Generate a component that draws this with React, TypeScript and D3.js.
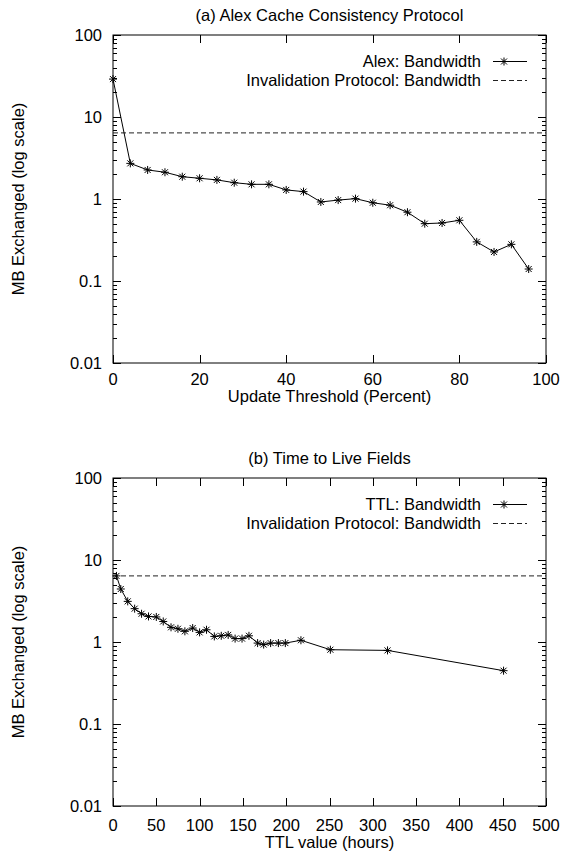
import React, { useEffect, useRef } from 'react';
import * as d3 from 'd3';

// (a) Alex protocol: update threshold (percent) vs MB exchanged
const alexThreshold = [0, 4, 8, 12, 16, 20, 24, 28, 32, 36, 40, 44, 48, 52, 56, 60, 64, 68, 72, 76, 80, 84, 88, 92, 96];
const alexBandwidth = [29, 2.72, 2.26, 2.12, 1.87, 1.79, 1.71, 1.58, 1.51, 1.51, 1.29, 1.23, 0.92, 0.97, 1.01, 0.9, 0.84, 0.69, 0.5, 0.51, 0.55, 0.3, 0.226, 0.28, 0.14];

// (b) TTL: ttl value (hours) vs MB exchanged
const ttlHours = [4, 9, 17, 25, 33, 41, 50, 58, 67, 75, 83, 92, 100, 108, 117, 125, 133, 141, 149, 157, 167, 174, 182, 191, 199, 217, 251, 317, 451];
const ttlBandwidth = [6.4, 4.43, 3.13, 2.55, 2.21, 2.05, 2.02, 1.78, 1.51, 1.45, 1.35, 1.48, 1.31, 1.41, 1.17, 1.19, 1.22, 1.1, 1.1, 1.19, 0.97, 0.93, 0.97, 0.97, 0.97, 1.05, 0.805, 0.79, 0.447];

const invalidationBandwidth = 6.4;

const yTicks = [0.01, 0.1, 1, 10, 100];
const yTickLabels = ['0.01', '0.1', '1', '10', '100'];
const alexXTicks = [0, 20, 40, 60, 80, 100];
const ttlXTicks = [0, 50, 100, 150, 200, 250, 300, 350, 400, 450, 500];

const FONT = '"Liberation Sans", Arial, Helvetica, sans-serif';
const FS = 16.5;

interface PanelProps {
  top: number;
  title: string;
  xLabel: string;
  xMax: number;
  xTicks: number[];
  xs: number[];
  ys: number[];
  seriesName: string;
  labelShift: number;
}

const Panel: React.FC<PanelProps> = ({ top, title, xLabel, xMax, xTicks, xs, ys, seriesName, labelShift }) => {
  const gRef = useRef<SVGGElement>(null);

  useEffect(() => {
    if (!gRef.current) return;
    const g = d3.select(gRef.current);
    g.selectAll('*').remove();

    const left = 113, right = 546, h = 328;
    const x = d3.scaleLinear().domain([0, xMax]).range([left, right]);
    const y = d3.scaleLog().domain([0.01, 100]).range([top + h, top]);

    const major = 8, minor = 4;

    // frame
    g.append('rect')
      .attr('x', left).attr('y', top)
      .attr('width', right - left).attr('height', h)
      .attr('fill', 'none').attr('stroke', '#000').attr('stroke-width', 1);

    // y ticks (major + minor, mirrored)
    const minors: number[] = [];
    for (let e = -2; e < 2; e++) {
      for (let k = 2; k <= 9; k++) minors.push(k * Math.pow(10, e));
    }
    const tickG = g.append('g').attr('stroke', '#000').attr('stroke-width', 1);
    yTicks.forEach(v => {
      const yy = Math.round(y(v)) + 0.5;
      tickG.append('line').attr('x1', left).attr('x2', left + major).attr('y1', yy).attr('y2', yy);
      tickG.append('line').attr('x1', right).attr('x2', right - major).attr('y1', yy).attr('y2', yy);
    });
    minors.forEach(v => {
      const yy = Math.round(y(v)) + 0.5;
      tickG.append('line').attr('x1', left).attr('x2', left + minor).attr('y1', yy).attr('y2', yy);
      tickG.append('line').attr('x1', right).attr('x2', right - minor).attr('y1', yy).attr('y2', yy);
    });
    xTicks.forEach(v => {
      const xx = Math.round(x(v)) + 0.5;
      tickG.append('line').attr('x1', xx).attr('x2', xx).attr('y1', top + h).attr('y2', top + h - major);
      tickG.append('line').attr('x1', xx).attr('x2', xx).attr('y1', top).attr('y2', top + major);
    });

    // tick labels
    yTicks.forEach((v, i) => {
      g.append('text')
        .attr('x', left - 11).attr('y', y(v) + 6)
        .attr('text-anchor', 'end')
        .style('font-family', FONT).style('font-size', `${FS}px`)
        .text(yTickLabels[i]);
    });
    xTicks.forEach(v => {
      g.append('text')
        .attr('x', x(v)).attr('y', top + h + 22 + labelShift)
        .attr('text-anchor', 'middle')
        .style('font-family', FONT).style('font-size', `${FS}px`)
        .text(String(v));
    });

    // titles
    g.append('text')
      .attr('x', (left + right) / 2).attr('y', top - 14)
      .attr('text-anchor', 'middle')
      .style('font-family', FONT).style('font-size', `${FS}px`)
      .text(title);
    g.append('text')
      .attr('x', (left + right) / 2).attr('y', top + h + 39 + labelShift)
      .attr('text-anchor', 'middle')
      .style('font-family', FONT).style('font-size', `${FS}px`)
      .text(xLabel);
    g.append('text')
      .attr('transform', `translate(24,${top + h / 2}) rotate(-90)`)
      .attr('text-anchor', 'middle')
      .style('font-family', FONT).style('font-size', `${FS}px`)
      .text('MB Exchanged (log scale)');

    // invalidation protocol: horizontal dashed line
    g.append('line')
      .attr('x1', left).attr('x2', right)
      .attr('y1', y(invalidationBandwidth)).attr('y2', y(invalidationBandwidth))
      .attr('stroke', '#222').attr('stroke-width', 1)
      .attr('stroke-dasharray', '5,3');

    // series line
    const pts = xs.map((v, i) => [x(v), y(ys[i])] as [number, number]);
    g.append('path')
      .datum(pts)
      .attr('fill', 'none').attr('stroke', '#000').attr('stroke-width', 1)
      .attr('d', d3.line());

    const star = (r: number, d: number) =>
      `M${-r},0H${r}M0,${-r}V${r}M${-d},${-d}L${d},${d}M${-d},${d}L${d},${-d}`;

    g.selectAll('.pt')
      .data(pts)
      .enter().append('path')
      .attr('class', 'pt')
      .attr('transform', d => `translate(${d[0]},${d[1]})`)
      .attr('d', star(4, 3))
      .attr('fill', 'none').attr('stroke', '#000').attr('stroke-width', 1);

    // legend
    const keyRight = 481, sx1 = 493, sx2 = 527;
    const k1 = top + 32, k2 = top + 51;
    g.append('text')
      .attr('x', keyRight).attr('y', k1)
      .attr('text-anchor', 'end')
      .style('font-family', FONT).style('font-size', `${FS}px`)
      .text(seriesName);
    g.append('line')
      .attr('x1', sx1).attr('x2', sx2).attr('y1', k1 - 5.5).attr('y2', k1 - 5.5)
      .attr('stroke', '#000').attr('stroke-width', 1);
    g.append('path')
      .attr('transform', `translate(504,${k1 - 5.5})`)
      .attr('d', star(4, 3))
      .attr('fill', 'none').attr('stroke', '#000').attr('stroke-width', 1);
    g.append('text')
      .attr('x', keyRight).attr('y', k2)
      .attr('text-anchor', 'end')
      .style('font-family', FONT).style('font-size', `${FS}px`)
      .text('Invalidation Protocol: Bandwidth');
    g.append('line')
      .attr('x1', sx1).attr('x2', sx2).attr('y1', k2 - 5.5).attr('y2', k2 - 5.5)
      .attr('stroke', '#222').attr('stroke-width', 1)
      .attr('stroke-dasharray', '5,3');
  }, [top, title, xLabel, xMax, xTicks, xs, ys, seriesName, labelShift]);

  return <g ref={gRef} />;
};

export default function App() {
  return (
    <svg
      width={563}
      height={854}
      style={{ position: 'absolute', left: 0, top: 0, background: '#fff' }}
    >
      <Panel
        top={35}
        title="(a) Alex Cache Consistency Protocol"
        xLabel="Update Threshold (Percent)"
        xMax={100}
        xTicks={alexXTicks}
        xs={alexThreshold}
        ys={alexBandwidth}
        seriesName="Alex: Bandwidth"
        labelShift={0}
      />
      <Panel
        top={478}
        title="(b) Time to Live Fields"
        xLabel="TTL value (hours)"
        xMax={500}
        xTicks={ttlXTicks}
        xs={ttlHours}
        ys={ttlBandwidth}
        seriesName="TTL: Bandwidth"
        labelShift={3}
      />
    </svg>
  );
}
